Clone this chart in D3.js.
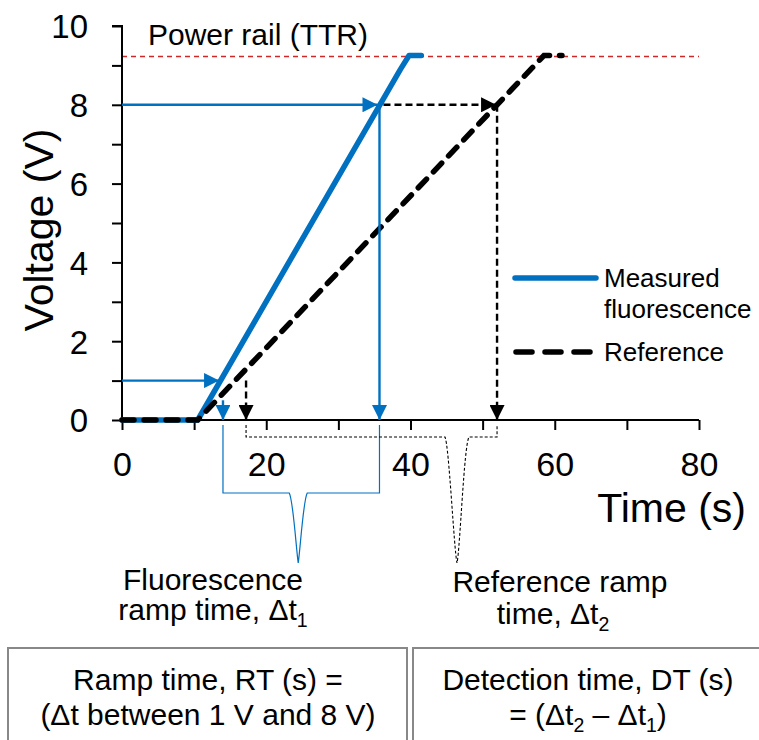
<!DOCTYPE html>
<html>
<head>
<meta charset="utf-8">
<script src="https://cdn.jsdelivr.net/npm/d3@7"></script>
<style>
  html, body { margin: 0; padding: 0; background: #fff; }
  svg { display: block; font-family: "Liberation Sans", Arial, sans-serif; }
</style>
</head>
<body>
<svg id="chart" width="759" height="740"></svg>
<script>
// ---- data ----
const measuredTime = [0, 10.5, 38.6, 39.8, 41.5];
const measuredVolt = [0, 0, 8.9, 9.25, 9.25];
const referenceTime = [0, 10.5, 52, 58.5, 61];
const referenceVolt = [0, 0, 8, 9.25, 9.25];
const powerRail = 9.25;
const xTicks = [0, 20, 40, 60, 80];
const yTicks = [0, 2, 4, 6, 8, 10];
const lowV = 1, highV = 8;
const measuredLowT = 13.6, measuredLowDropT = 14.0, measuredHighT = 35.7;
const referenceLowT = 17.2, referenceHighT = 52.0;

const svg = d3.select("#chart");
const x = d3.scaleLinear().domain([0, 80]).range([122, 699]);
const y = d3.scaleLinear().domain([0, 10]).range([420, 26]);

const BLUE = "#0070C0";
const FONT = "Liberation Sans, Arial, sans-serif";

// defs: arrowheads
const defs = svg.append("defs");
function marker(id, color) {
  defs.append("marker").attr("id", id)
    .attr("viewBox", "0 0 10 10").attr("refX", 10).attr("refY", 5)
    .attr("markerUnits", "userSpaceOnUse")
    .attr("markerWidth", 18).attr("markerHeight", 15)
    .attr("orient", "auto")
    .append("path").attr("d", "M0,0 L10,5 L0,10 Z").attr("fill", color);
}
marker("ab", BLUE);
marker("ak", "#000");

// power rail
svg.append("line")
  .attr("x1", x(0)).attr("x2", x(80))
  .attr("y1", Math.round(y(powerRail)) + 0.5).attr("y2", Math.round(y(powerRail)) + 0.5)
  .attr("stroke", "#D02828").attr("stroke-width", 1.3)
  .attr("stroke-dasharray", "5,4");
svg.append("text").attr("x", 148).attr("y", 45)
  .attr("font-size", 30).text("Power rail (TTR)");

// axes
const xAxis = d3.axisBottom(x).tickValues(d3.range(0, 81, 10))
  .tickSize(10).tickFormat(d => xTicks.includes(d) ? d : "");
const gx = svg.append("g").attr("transform", `translate(0,${y(0)})`).call(xAxis);
gx.select(".domain").attr("stroke-width", 2).attr("d", `M${x(0)},0H${x(80)}`);
gx.selectAll(".tick line").attr("stroke-width", 2);
gx.selectAll(".tick text").attr("font-size", 34).attr("dy", 0).attr("y", 56)
  .attr("font-family", FONT).attr("fill", "#000");

const yAxis = d3.axisLeft(y).tickValues(d3.range(0, 11, 1))
  .tickSize(10).tickFormat(d => yTicks.includes(d) ? d : "");
const gy = svg.append("g").attr("transform", `translate(${x(0)},0)`).call(yAxis);
gy.select(".domain").attr("stroke-width", 2).attr("d", `M-10,${y(10)}H0V${y(0)}`);
gy.selectAll(".tick line").attr("stroke-width", 2);
gy.selectAll(".tick text").attr("font-size", 33).attr("x", -34).attr("dy", "0.36em")
  .attr("font-family", FONT).attr("fill", "#000");

svg.append("text").attr("transform", `translate(53,230) rotate(-90)`)
  .attr("text-anchor", "middle").attr("font-size", 41).text("Voltage (V)");
svg.append("text").attr("x", 746).attr("y", 522).attr("text-anchor", "end")
  .attr("font-size", 41).text("Time (s)");

// lines
const line = d3.line().x(d => x(d[0])).y(d => y(d[1])).curve(d3.curveLinear);
const measured = measuredTime.map((t, i) => [t, measuredVolt[i]]);
const reference = referenceTime.map((t, i) => [t, referenceVolt[i]]);

svg.append("path").datum(measured).attr("d", line)
  .attr("fill", "none").attr("stroke", BLUE).attr("stroke-width", 5.5)
  .attr("stroke-linejoin", "round").attr("stroke-linecap", "round");
svg.append("path").datum(reference).attr("d", line)
  .attr("fill", "none").attr("stroke", "#000").attr("stroke-width", 5.5)
  .attr("stroke-dasharray", "12,10").attr("stroke-linecap", "round");

// arrows
function arrow(x1, y1, x2, y2, color, mk, dashed) {
  svg.append("line").attr("x1", x1).attr("y1", y1).attr("x2", x2).attr("y2", y2)
    .attr("stroke", color).attr("stroke-width", 2.4)
    .attr("stroke-dasharray", dashed ? "7,4" : null)
    .attr("marker-end", `url(#${mk})`);
}
arrow(x(0), y(highV), x(measuredHighT) - 2, y(highV), BLUE, "ab");
arrow(x(0), y(lowV), x(measuredLowT) - 1, y(lowV), BLUE, "ab");
arrow(x(measuredHighT), y(highV), x(measuredHighT), y(0), BLUE, "ab");
arrow(x(measuredLowDropT), y(0.5), x(measuredLowDropT), y(0), BLUE, "ab");
arrow(x(measuredHighT) + 4, y(highV), x(referenceHighT) - 1, y(highV), "#000", "ak", true);
arrow(x(referenceHighT), y(highV), x(referenceHighT), y(0), "#000", "ak", true);
arrow(x(referenceLowT), y(lowV), x(referenceLowT), y(0), "#000", "ak", true);

// brackets
const bx1 = x(measuredLowDropT), bx2 = x(measuredHighT);
const bmid = (bx1 + bx2) / 2 - 3;
svg.append("path")
  .attr("d", `M${bx1},425 V493 H${bmid - 9} C${bmid - 5},500 ${bmid - 2},550 ${bmid},563 C${bmid + 2},550 ${bmid + 5},500 ${bmid + 9},493 H${bx2} V425`)
  .attr("fill", "none").attr("stroke", BLUE).attr("stroke-width", 1.2);
const rx1 = x(referenceLowT), rx2 = x(referenceHighT);
const rmid = 457;
svg.append("path")
  .attr("d", `M${rx1},425 V437 H${rmid - 12} C${rmid - 8},445 ${rmid - 3},550 ${rmid},563 C${rmid + 3},550 ${rmid + 7},445 ${rmid + 12},437 H${rx2} V425`)
  .attr("fill", "none").attr("stroke", "#000").attr("stroke-width", 1.1)
  .attr("stroke-dasharray", "3,2");

// annotation labels
function label(cx, by, parts, size) {
  const t = svg.append("text").attr("x", cx).attr("y", by)
    .attr("text-anchor", "middle").attr("font-size", size);
  let shifted = false;
  parts.forEach(p => {
    if (typeof p === "string") {
      const ts = t.append("tspan").text(p);
      if (shifted) { ts.attr("dy", -size * 0.22); shifted = false; }
    } else {
      t.append("tspan").attr("font-size", size * 0.65).attr("dy", size * 0.22).text(p.sub);
      shifted = true;
    }
  });
  return t;
}
label(213, 590, ["Fluorescence"], 30);
label(213, 620, ["ramp time, \u0394t", {sub: "1"}], 30);
label(560, 592, ["Reference ramp"], 30);
label(553, 624, ["time, \u0394t", {sub: "2"}], 30);

// legend
svg.append("line").attr("x1", 515).attr("x2", 596).attr("y1", 278).attr("y2", 278)
  .attr("stroke", BLUE).attr("stroke-width", 5.5).attr("stroke-linecap", "round");
svg.append("line").attr("x1", 516).attr("x2", 590).attr("y1", 352).attr("y2", 352)
  .attr("stroke", "#000").attr("stroke-width", 5.5).attr("stroke-linecap", "round")
  .attr("stroke-dasharray", "16,13");
svg.append("text").attr("x", 604).attr("y", 287).attr("font-size", 26).text("Measured");
svg.append("text").attr("x", 604).attr("y", 318).attr("font-size", 26).text("fluorescence");
svg.append("text").attr("x", 604).attr("y", 361).attr("font-size", 26).text("Reference");

// boxes
svg.append("rect").attr("x", 8).attr("y", 648).attr("width", 399).attr("height", 120)
  .attr("fill", "none").attr("stroke", "#888").attr("stroke-width", 2);
svg.append("rect").attr("x", 413).attr("y", 648).attr("width", 400).attr("height", 120)
  .attr("fill", "none").attr("stroke", "#888").attr("stroke-width", 2);
label(208, 690, ["Ramp time, RT (s) ="], 30);
label(208, 725, ["(\u0394t between 1 V and 8 V)"], 30);
label(588, 690, ["Detection time, DT (s)"], 30);
label(588, 725, ["= (\u0394t", {sub: "2"}, " \u2013 \u0394t", {sub: "1"}, ")"], 30);
</script>
</body>
</html>
